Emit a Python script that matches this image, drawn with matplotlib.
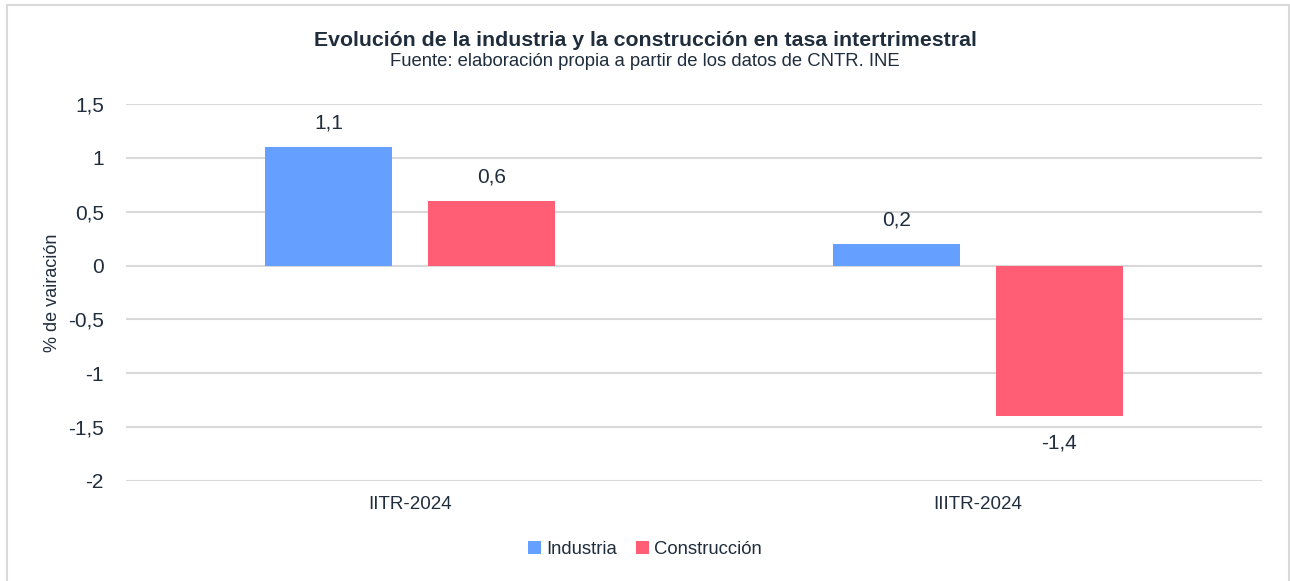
import numpy as np
import matplotlib.pyplot as plt
from matplotlib.patches import Rectangle

plt.rcParams['font.family'] = ['Liberation Sans', 'DejaVu Sans']

# Datos
trimestres = ['IITR-2024', 'IIITR-2024']
industria = [1.1, 0.2]
construccion = [0.6, -1.4]
series = ['Industria', 'Construcción']

col_ind = '#659FFF'
col_con = '#FF5E74'
txt = '#1F2D3D'

fig = plt.figure(figsize=(12.9, 5.81), dpi=100)
ax = fig.add_axes([126 / 1290, 1 - 481 / 581, (1262 - 126) / 1290, (481 - 104) / 581])

x = np.arange(len(trimestres))
ancho = 0.224
sep = 0.143
b1 = ax.bar(x - sep, industria, ancho, color=col_ind, label=series[0], zorder=3)
b2 = ax.bar(x + sep, construccion, ancho, color=col_con, label=series[1], zorder=3)

# Etiquetas de valores
for barras in (b1, b2):
    for b in barras:
        v = b.get_height()
        etiqueta = f'{v:.1f}'.replace('.', ',')
        off = 17 if v >= 0 else -19
        ax.annotate(etiqueta, (b.get_x() + b.get_width() / 2, v), xytext=(0, off),
                    textcoords='offset points', ha='center', va='center',
                    fontsize=15, color=txt)

ax.set_xlim(-0.5, 1.5)
ax.set_ylim(-2, 1.5)
yt = np.arange(-2, 1.51, 0.5)
ax.set_yticks(yt)
ax.set_yticklabels([('%g' % t).replace('.', ',') for t in yt], fontsize=15, color=txt)
ax.set_xticks(x)
ax.set_xticklabels(trimestres, fontsize=13.5, color=txt)
ax.tick_params(axis='both', length=0)
ax.tick_params(axis='y', pad=16)
ax.tick_params(axis='x', pad=11)
ax.grid(axis='y', color='#D9D9D9', linewidth=1.5, zorder=0)
for s in ax.spines.values():
    s.set_visible(False)

ax.set_ylabel('% de vairación', fontsize=13, color=txt, labelpad=5)

fig.text(0.5, 1 - 40 / 581, 'Evolución de la industria y la construcción en tasa intertrimestral',
         ha='center', va='center', fontsize=15.3, fontweight='bold', color=txt)
fig.text(0.5, 1 - 61 / 581, 'Fuente: elaboración propia a partir de los datos de CNTR. INE',
         ha='center', va='center', fontsize=13.3, color=txt)

leg = fig.legend(loc='center', bbox_to_anchor=(0.5, 1 - 549 / 581), ncol=2, frameon=False,
                 fontsize=13.3, handlelength=0.7, handleheight=0.7, handletextpad=0.3,
                 columnspacing=1.0)
for t in leg.get_texts():
    t.set_color(txt)

# Marco
fig.patches.append(Rectangle((7 / 1290, -0.01), 1 - 8 / 1290, 1.01 - 5 / 581,
                             transform=fig.transFigure, fill=False,
                             edgecolor='#D9D9D9', linewidth=1.5))

fig.savefig('out.png', dpi=100)
